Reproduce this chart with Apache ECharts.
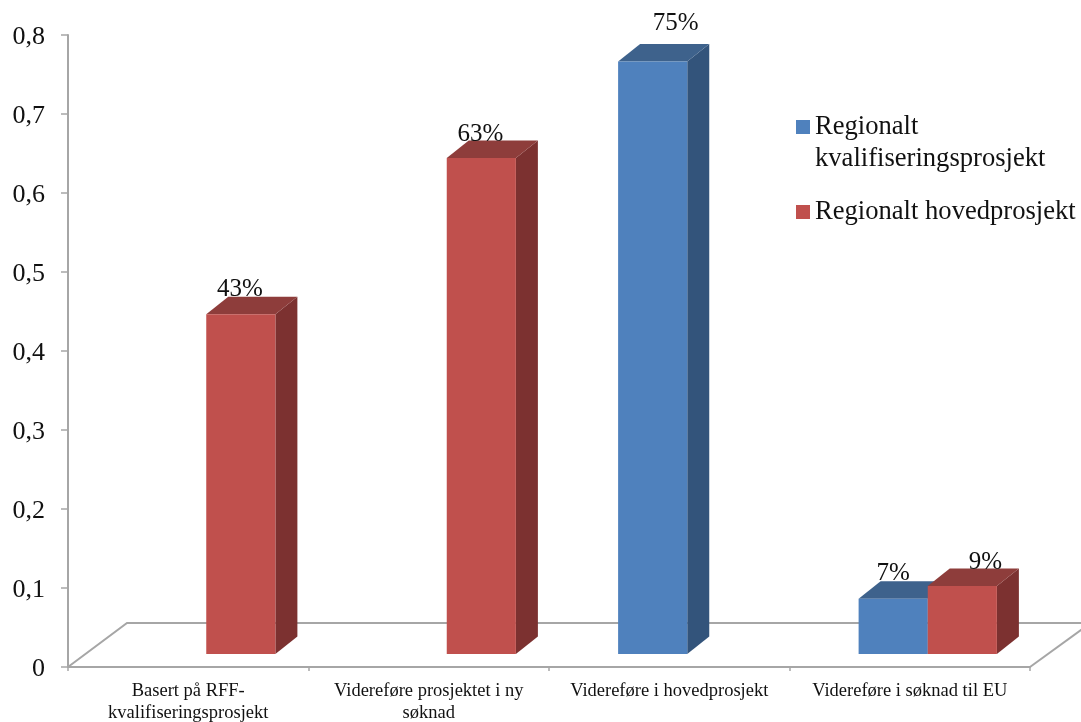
<!DOCTYPE html>
<html><head><meta charset="utf-8">
<style>html,body{margin:0;padding:0;background:#fff}#c{width:1081px;height:722px}</style>
<script src="https://cdn.jsdelivr.net/npm/echarts@6/dist/echarts.min.js"></script>
</head><body><div id="c"></div>
<script>
const categories = ['Basert på RFF-\nkvalifiseringsprosjekt','Videreføre prosjektet i ny\nsøknad','Videreføre i hovedprosjekt','Videreføre i søknad til EU'];
const seriesNames = ['Regionalt kvalifiseringsprosjekt','Regionalt hovedprosjekt'];
const blueValues = [null, null, 0.75, 0.07];
const redValues = [0.43, 0.628, null, 0.086];
const yTicks = {min:0, max:0.8, interval:0.1};

const FONT = '"Liberation Serif","Times New Roman",serif';
const DX = 22, DY = -17.5, LIFT = 13, SHIFT = 18, BAR_RATIO = 0.2875;
const RED = {front:'#c0504d', top:'#8e3d3b', side:'#7c3130'};
const BLUE = {front:'#4f81bd', top:'#3e628c', side:'#33547b'};
const GREY = '#a6a6a6';

function barRenderer(pal, side, nudges){
  return function(params, api){
    const i = api.value(0), v = api.value(1);
    const w = api.size([1,0])[0]*BAR_RATIO;
    const c = api.coord([i, v]);
    const zero = api.coord([i, 0]);
    const x0 = c[0] + SHIFT + (side<0 ? -w : 0), x1 = x0 + w;
    const yT = c[1] - LIFT, yB = zero[1] - LIFT;
    const n = nudges[i];
    return {type:'group', children:[
      {type:'polygon', shape:{points:[[x1,yT],[x1+DX,yT+DY],[x1+DX,yB+DY],[x1,yB]]}, style:{fill:pal.side}},
      {type:'polygon', shape:{points:[[x0,yT],[x1,yT],[x1+DX,yT+DY],[x0+DX,yT+DY]]}, style:{fill:pal.top}},
      {type:'rect', shape:{x:x0,y:yT,width:w,height:yB-yT}, style:{fill:pal.front}},
      {type:'text', z2:10, style:{text:Math.round(v*100)+'%', x:(x0+x1)/2+n[0], y:yT+DY+n[1], align:'center', verticalAlign:'middle',
        font:'25px '+FONT, fill:'#111'}}
    ]};
  };
}
function floorRenderer(params){
  const s = params.coordSys, L = s.x, R = s.x+s.width, B = s.y+s.height;
  const style = {stroke:GREY, lineWidth:2, fill:'none'};
  return {type:'group', children:[
    {type:'polyline', shape:{points:[[L,B],[L+59,B-44],[1085,B-44]]}, style},
    {type:'line', shape:{x1:R,y1:B,x2:R+55,y2:B-40}, style}
  ]};
}
const toData = a => a.map((v,i)=>[i,v]).filter(d=>d[1]!==null);

const chart = echarts.init(document.getElementById('c'), null, {renderer:'canvas'});
chart.setOption({
  animation:false,
  backgroundColor:'#fff',
  grid:{left:68, right:51, top:35, bottom:55, containLabel:false, outerBoundsMode:'none'},
  legend:[
    {data:[seriesNames[0]], left:796, top:79, padding:0, orient:'vertical', selectedMode:false, icon:'rect', itemWidth:14, itemHeight:14,
     formatter:()=> ' \nRegionalt\nkvalifiseringsprosjekt',
     textStyle:{fontFamily:FONT, fontSize:26.6, color:'#111', lineHeight:32}},
    {data:[seriesNames[1]], left:796, top:197, padding:0, orient:'vertical', selectedMode:false, icon:'rect', itemWidth:14, itemHeight:14,
     textStyle:{fontFamily:FONT, fontSize:26.6, color:'#111', lineHeight:30}}
  ],
  xAxis:{type:'category', data:categories,
    axisLine:{lineStyle:{color:GREY,width:2}}, axisTick:{show:true,length:4,lineStyle:{color:GREY,width:1.5}},
    axisLabel:{interval:0, fontFamily:FONT, fontSize:18.5, color:'#111', lineHeight:22, margin:13}},
  yAxis:{type:'value', min:yTicks.min, max:yTicks.max, interval:yTicks.interval, splitLine:{show:false},
    axisLine:{show:true,lineStyle:{color:GREY,width:2}}, axisTick:{show:true,length:7,lineStyle:{color:GREY,width:1.5}},
    axisLabel:{margin:23, fontFamily:FONT, fontSize:26, color:'#111', verticalAlign:'top', lineHeight:4, formatter:v=>String(+v.toFixed(1)).replace('.',',')}},
  series:[
    {type:'custom', name:'floor', silent:true, z:1, clip:false, data:[[0,0]], renderItem:floorRenderer},
    {type:'custom', name:seriesNames[0], z:2, clip:false, itemStyle:{color:BLUE.front}, encode:{x:0,y:1}, data:toData(blueValues),
     renderItem:barRenderer(BLUE,-1,[[0,0],[0,0],[23,-21],[0,-8]])},
    {type:'custom', name:seriesNames[1], z:3, clip:false, itemStyle:{color:RED.front}, encode:{x:0,y:1}, data:toData(redValues),
     renderItem:barRenderer(RED,1,[[-1,-7],[-1,-6],[0,0],[23,-6]])}
  ]
});
</script></body></html>
